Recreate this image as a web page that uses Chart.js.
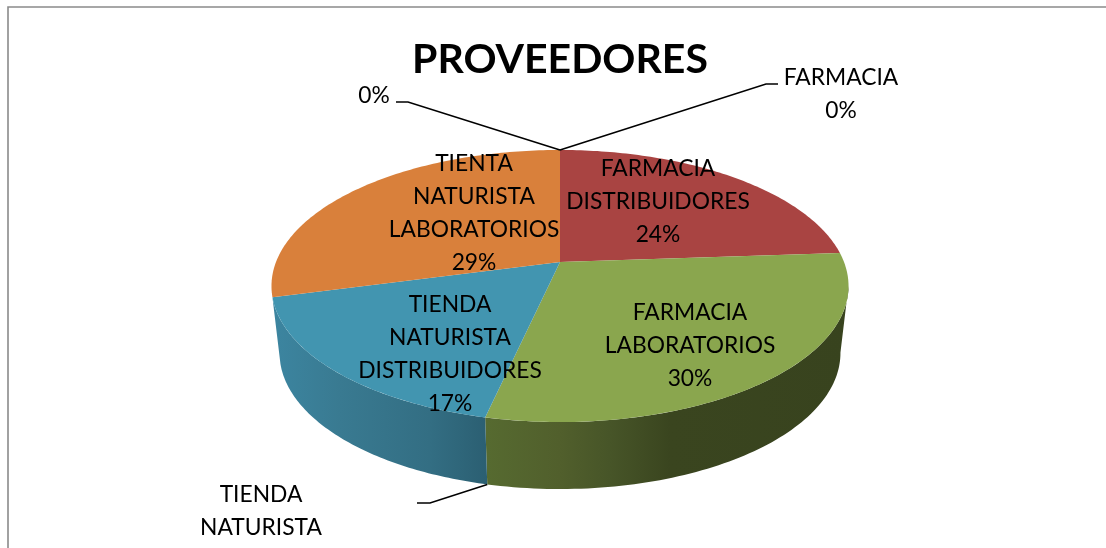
<!DOCTYPE html>
<html><head><meta charset="utf-8">
<style>html,body{margin:0;padding:0;background:#fff}canvas{display:block}</style>
<script src="https://cdn.jsdelivr.net/npm/chart.js@4"></script>
</head><body>
<canvas id="c" width="1106" height="548"></canvas>
<script>
const titleText = 'PROVEEDORES';
const categories = ['FARMACIA','FARMACIA DISTRIBUIDORES','FARMACIA LABORATORIOS','TIENDA NATURISTA','TIENDA NATURISTA DISTRIBUIDORES','TIENTA NATURISTA LABORATORIOS',''];
const values = [0, 23.9, 29.6, 0, 17.4, 29.1, 0];
const sliceColors = ['#a94442','#a94442','#8aa64e','#8aa64e','#4295b0','#d9803b','#d9803b'];

// label placement: centre x, first-line y, name lines
const labelLayout = [
  {x:841,y:78,lines:['FARMACIA']},
  {x:658,y:169,lines:['FARMACIA','DISTRIBUIDORES']},
  {x:690,y:313,lines:['FARMACIA','LABORATORIOS']},
  {x:261,y:495,lines:['TIENDA','NATURISTA']},
  {x:450,y:305,lines:['TIENDA','NATURISTA','DISTRIBUIDORES']},
  {x:474,y:164,lines:['TIENTA','NATURISTA','LABORATORIOS']},
  {x:374,y:96,lines:[]}
];
const G = {cx:560, cy:262, rx:284, ry:131.8, p:0.1765, depth:67, shrink:0.972};
function rim(a){
  const u=Math.cos(a), v=Math.sin(a), w=1-G.p*v;
  return [G.cx+G.rx*u/w, G.cy+G.ry*v/w];
}
function lower(a){
  const [x,y]=rim(a);
  return [G.cx+(x-G.cx)*G.shrink, y+G.depth];
}
const D=Math.PI/180, visFrom=10*D, visTo=166*D; // canvas angles of the visible wall
const wallStops = {
  2:[[487,'#566a30'],[560,'#515f2c'],[610,'#475528'],[670,'#3a451f'],[847,'#38431e']],
  4:[[273,'#3c85a0'],[340,'#397a91'],[430,'#336e83'],[487,'#2b5f72']]
};
const pie3d = {
  id:'pie3d',
  beforeDraw(chart){
    const c=chart.ctx; c.save();
    c.strokeStyle='#8a8a8a'; c.lineWidth=1.6;
    c.beginPath(); c.moveTo(8,548); c.lineTo(8,7); c.lineTo(1106,7); c.stroke();
    c.restore();
  },
  beforeDatasetDraw(chart,args){
    const c=chart.ctx, arcs=chart.getDatasetMeta(args.index).data;
    c.save();
    arcs.forEach((arc,i)=>{
      const s=arc.startAngle,e=arc.endAngle;
      const from=Math.max(s,visFrom), to=Math.min(e,visTo);
      if(e-s<1e-6||to<=from) return;
      const g=c.createLinearGradient(273,0,847,0);
      (wallStops[i]||[]).forEach(([x,col])=>g.addColorStop((x-273)/574,col));
      c.fillStyle=g; c.beginPath();
      const n=80;
      for(let k=0;k<=n;k++){const p=rim(from+(to-from)*k/n); k?c.lineTo(p[0],p[1]):c.moveTo(p[0],p[1]);}
      for(let k=n;k>=0;k--){const p=lower(from+(to-from)*k/n); c.lineTo(p[0],p[1]);}
      c.closePath(); c.fill();
    });
    arcs.forEach((arc,i)=>{
      const s=arc.startAngle,e=arc.endAngle;
      if(e-s<1e-6) return;
      c.fillStyle=sliceColors[i]; c.beginPath(); c.moveTo(G.cx,G.cy);
      const n=Math.ceil((e-s)/D);
      for(let k=0;k<=n;k++){const p=rim(s+(e-s)*k/n); c.lineTo(p[0],p[1]);}
      c.closePath(); c.fill();
    });
    // leader lines for the empty slices
    c.strokeStyle='#000'; c.lineWidth=1.6;
    const lead=(pts)=>{c.beginPath();pts.forEach((p,k)=>k?c.lineTo(p[0],p[1]):c.moveTo(p[0],p[1]));c.stroke();};
    const a0=rim(arcs[0].startAngle), a3=lower(arcs[3].startAngle), a6=rim(arcs[6].startAngle);
    lead([a0,[766,84],[778,84]]);
    lead([a6,[408,102],[396,102]]);
    lead([a3,[430,503],[417,503]]);
    // labels
    c.fillStyle='#000'; c.font='22.8px Lato'; c.textAlign='center'; c.textBaseline='middle';
    labelLayout.forEach((l,i)=>{
      const lines=l.lines.concat(Math.round(values[i])+'%');
      lines.forEach((t,k)=>c.fillText(t,l.x,l.y+k*32.8));
    });
    c.restore();
    return false;
  }
};
new Chart(document.getElementById('c'),{
  type:'pie',
  data:{labels:categories,datasets:[{data:values,backgroundColor:sliceColors,borderWidth:0}]},
  options:{
    responsive:false,animation:false,
    layout:{padding:{left:14}},
    plugins:{
      legend:{display:false},tooltip:{enabled:false},
      title:{display:true,text:titleText,color:'#000',font:{family:'Lato',size:41,weight:'bold'},padding:{top:35,bottom:10}}
    }
  },
  plugins:[pie3d]
});
</script>
</body></html>
